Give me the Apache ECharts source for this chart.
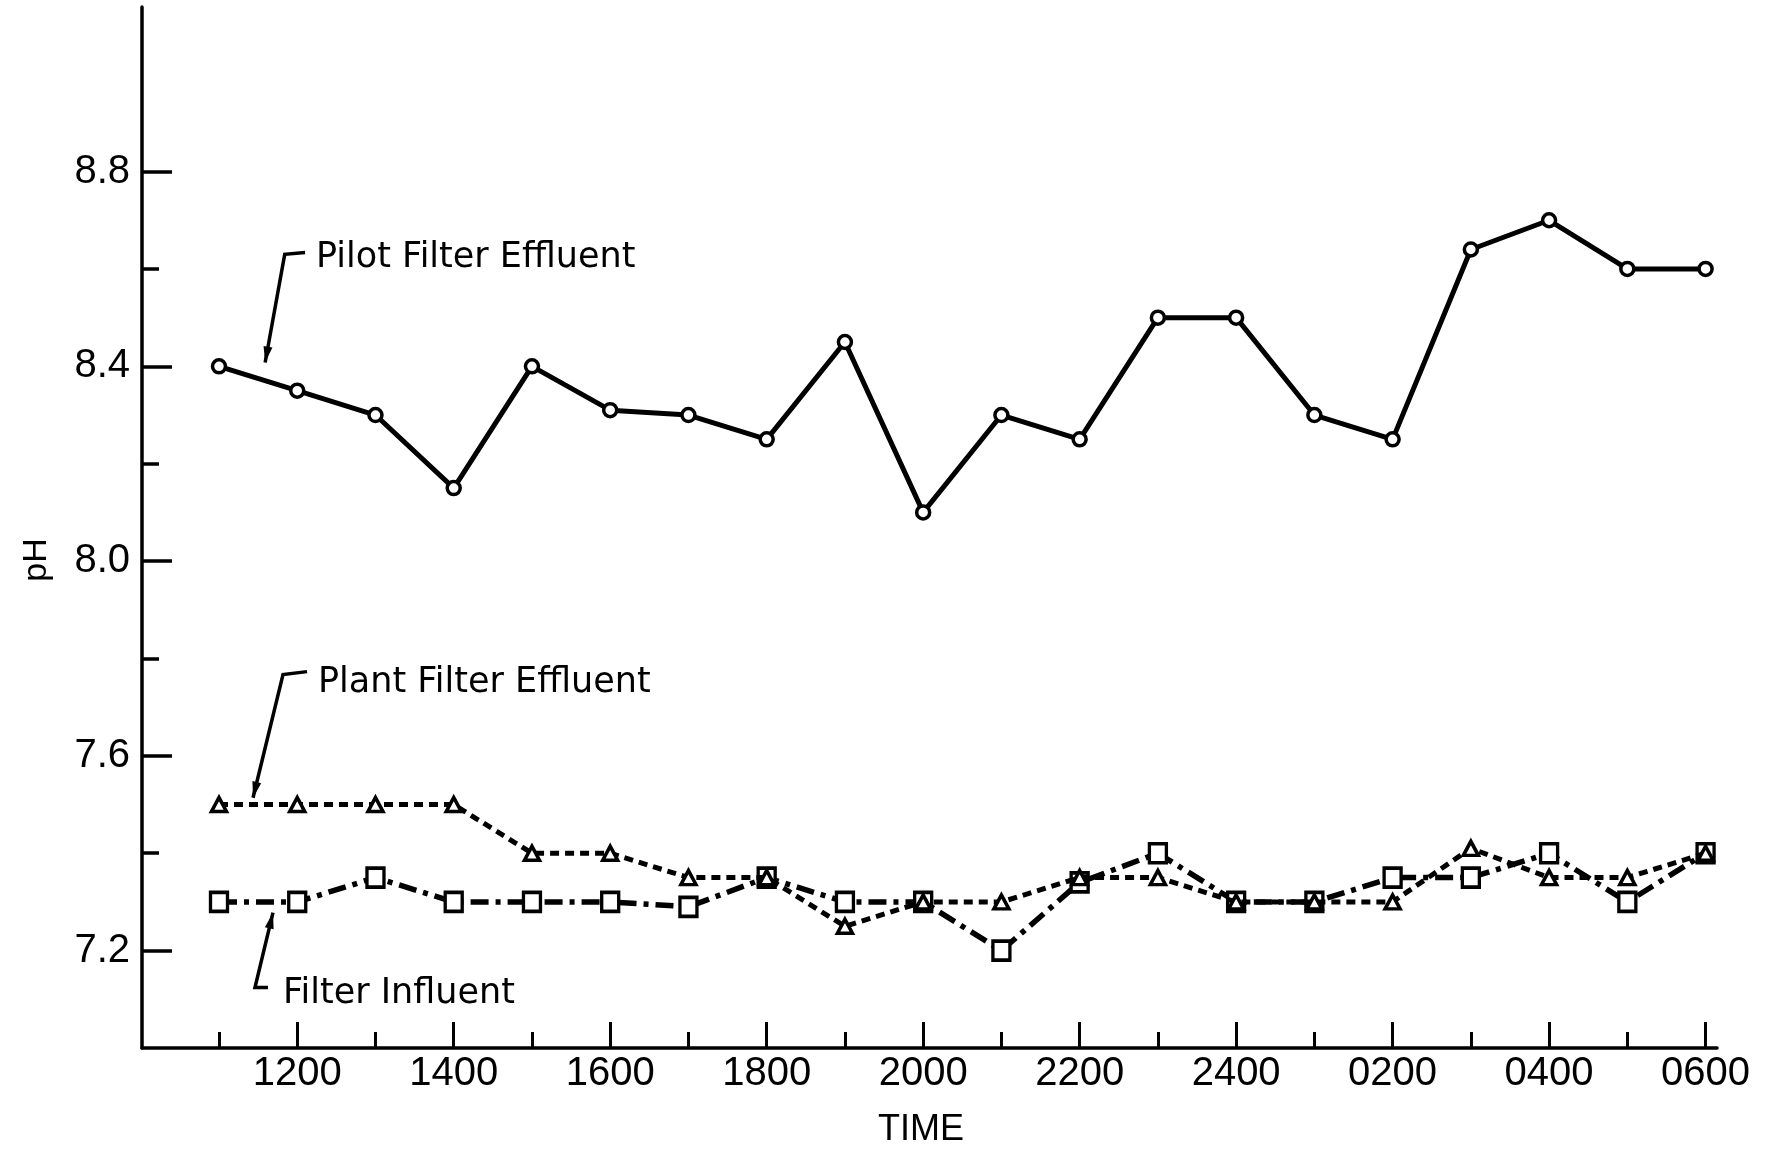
<!DOCTYPE html>
<html>
<head>
<meta charset="utf-8">
<title>pH vs Time</title>
<script src="https://cdn.jsdelivr.net/npm/echarts@6/dist/echarts.min.js"></script>
<style>
  html, body { margin: 0; padding: 0; background: #fff; }
  #main { width: 1782px; height: 1153px; }
</style>
</head>
<body>
<div id="main"></div>
<script>
// Sampling times (hourly, 1100 through 0600 next morning)
const times = ['1100', '1200', '1300', '1400', '1500', '1600', '1700', '1800', '1900', '2000',
               '2100', '2200', '2300', '2400', '0100', '0200', '0300', '0400', '0500', '0600'];

// pH readings
const pilotEffluent  = [8.40, 8.35, 8.30, 8.15, 8.40, 8.31, 8.30, 8.25, 8.45, 8.10,
                        8.30, 8.25, 8.50, 8.50, 8.30, 8.25, 8.64, 8.70, 8.60, 8.60];
const plantEffluent  = [7.50, 7.50, 7.50, 7.50, 7.40, 7.40, 7.35, 7.35, 7.25, 7.30,
                        7.30, 7.35, 7.35, 7.30, 7.30, 7.30, 7.41, 7.35, 7.35, 7.40];
const filterInfluent = [7.30, 7.30, 7.35, 7.30, 7.30, 7.30, 7.29, 7.35, 7.30, 7.30,
                        7.20, 7.34, 7.40, 7.30, 7.30, 7.35, 7.35, 7.40, 7.30, 7.40];

// Axis ticks
const phTicks      = [7.2, 7.6, 8.0, 8.4, 8.8];
const phMinorTicks = [7.4, 7.8, 8.2, 8.6];
const timeLabelIdx = [1, 3, 5, 7, 9, 11, 13, 15, 17, 19];   // 1200, 1400, ... 0600
const timeMinorIdx = [0, 2, 4, 6, 8, 10, 12, 14, 16, 18];   // 1100, 1300, ... 0500

// Series captions with leader lines (in data space: [time index, pH])
const captions = [
  { text: 'Pilot Filter Effluent', at: [1.24, 8.622],
    leader: [[1.10, 8.634], [0.84, 8.63], [0.59, 8.408]] },
  { text: 'Plant Filter Effluent', at: [1.265, 7.749],
    leader: [[1.125, 7.773], [0.818, 7.767], [0.435, 7.514]] },
  { text: 'Filter Influent', at: [0.818, 7.112],
    leader: [[0.626, 7.124], [0.46, 7.124], [0.69, 7.278]] }
];

const INK = '#000';
const PH_MIN = 7.0, PH_MAX = 9.138;
const X_MIN = -0.984, X_MAX = 19.146;
const numFont = 'Liberation Sans';

const pairs = arr => arr.map((v, i) => [i, v]);

// Helper for an extra axis that only carries a set of tick marks
function tickAxis(base, values, length, width) {
  return Object.assign({
    type: 'value',
    axisLine: { show: false, onZero: false },
    axisTick: { show: true, inside: true, length: length, customValues: values,
                lineStyle: { color: INK, width: width } },
    axisLabel: { show: false },
    splitLine: { show: false }
  }, base);
}

const chart = echarts.init(document.getElementById('main'), null, { renderer: 'canvas' });

chart.setOption({
  backgroundColor: '#fff',
  animation: false,
  grid: { left: 142, right: 65, top: 7, bottom: 105, containLabel: false, outerBoundsMode: 'none' },
  xAxis: [
    {
      type: 'value', min: X_MIN, max: X_MAX, position: 'bottom',
      name: 'TIME', nameLocation: 'middle', nameGap: 64,
      nameTextStyle: { fontFamily: numFont, fontSize: 36, color: INK, padding: [0, 17, 0, 0] },
      axisLine: { show: true, onZero: false, lineStyle: { color: INK, width: 3.5 } },
      axisTick: { show: false },
      axisLabel: { show: true, margin: 6, customValues: timeLabelIdx,
                   fontFamily: numFont, fontSize: 40, color: INK,
                   formatter: v => times[Math.round(v)] },
      splitLine: { show: false }
    },
    tickAxis({ min: X_MIN, max: X_MAX, position: 'bottom' }, timeLabelIdx, 26, 3),
    tickAxis({ min: X_MIN, max: X_MAX, position: 'bottom' }, timeMinorIdx, 16, 3)
  ],
  yAxis: [
    {
      type: 'value', min: PH_MIN, max: PH_MAX, position: 'left',
      axisLine: { show: true, onZero: false, lineStyle: { color: INK, width: 3.5 } },
      axisTick: { show: false },
      axisLabel: { show: true, margin: 12, customValues: phTicks,
                   fontFamily: numFont, fontSize: 40, color: INK,
                   formatter: v => v.toFixed(1) },
      splitLine: { show: false }
    },
    tickAxis({ min: PH_MIN, max: PH_MAX, position: 'left' }, phTicks, 30, 3.5),
    tickAxis({ min: PH_MIN, max: PH_MAX, position: 'left' }, phMinorTicks, 17, 3.5)
  ],
  series: [
    {
      name: 'Pilot Filter Effluent', type: 'line', z: 3,
      data: pairs(pilotEffluent),
      symbol: 'circle', symbolSize: 13,
      lineStyle: { color: INK, width: 5, type: 'solid' },
      itemStyle: { color: '#fff', borderColor: INK, borderWidth: 3.5 }
    },
    {
      name: 'Filter Influent', type: 'line', z: 3,
      data: pairs(filterInfluent),
      symbol: 'rect', symbolSize: [17, 19],
      lineStyle: { color: INK, width: 5.5, type: [18, 7, 5, 7] },
      itemStyle: { color: '#fff', borderColor: INK, borderWidth: 3.5 }
    },
    {
      name: 'Plant Filter Effluent', type: 'line', z: 4,
      data: pairs(plantEffluent),
      symbol: 'triangle', symbolSize: [15, 14],
      lineStyle: { color: INK, width: 5, type: [9, 6] },
      itemStyle: { color: '#fff', borderColor: INK, borderWidth: 3.5 }
    }
  ]
});

// Captions and leader arrows, placed through the chart's own coordinate system
const toPx = p => chart.convertToPixel({ xAxisIndex: 0, yAxisIndex: 0 }, p);
const elements = [];
captions.forEach(c => {
  const pts = c.leader.map(toPx);
  elements.push({
    type: 'polyline', silent: true, z: 10,
    shape: { points: pts },
    style: { stroke: INK, lineWidth: 3.5, fill: null }
  });
  const tip = pts[pts.length - 1], prev = pts[pts.length - 2];
  const dx = tip[0] - prev[0], dy = tip[1] - prev[1];
  const len = Math.hypot(dx, dy), ux = dx / len, uy = dy / len;
  const headLen = 16, headHalf = 4.5;
  const bx = tip[0] - ux * headLen, by = tip[1] - uy * headLen;
  elements.push({
    type: 'polygon', silent: true, z: 10,
    shape: { points: [tip, [bx - uy * headHalf, by + ux * headHalf], [bx + uy * headHalf, by - ux * headHalf]] },
    style: { fill: INK }
  });
  const t = toPx(c.at);
  elements.push({
    type: 'text', silent: true, z: 10,
    x: t[0], y: t[1],
    style: { text: c.text, x: 0, y: 0, fill: INK,
             font: '35px "DejaVu Sans"',
             align: 'left', verticalAlign: 'middle',
             textAlign: 'left', textVerticalAlign: 'middle' }
  });
});
// Vertical axis title
elements.push({
  type: 'text', silent: true, z: 10,
  x: 37, y: 560, rotation: Math.PI / 2,
  style: { text: 'pH', x: 0, y: 0, fill: INK,
           font: '34px "Liberation Sans"',
           align: 'center', verticalAlign: 'middle',
           textAlign: 'center', textVerticalAlign: 'middle' }
});
chart.setOption({ graphic: { elements: elements } });
</script>
</body>
</html>
